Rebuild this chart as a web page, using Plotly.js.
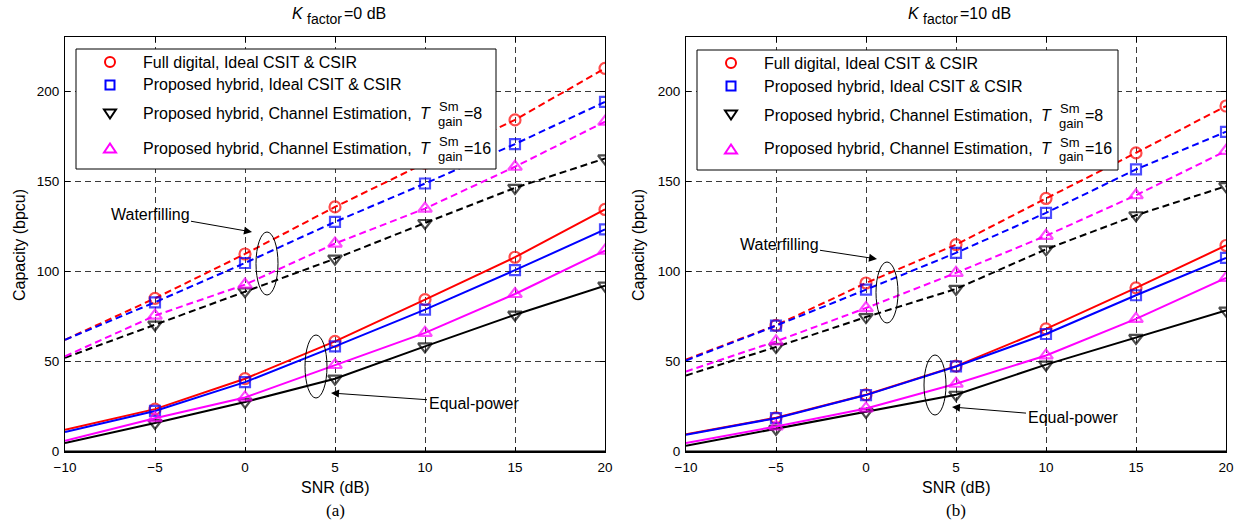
<!DOCTYPE html>
<html>
<head>
<meta charset="utf-8">
<script src="https://cdn.plot.ly/plotly-3.0.1.min.js"></script>
<style>html,body{margin:0;padding:0;background:#fff;}#chart{width:1247px;height:525px;}</style>
</head>
<body>
<div id="chart"></div>
<script>
// ---------------- DATA ----------------
const snr = [-10, -5, 0, 5, 10, 15, 20];

// (a) K_factor = 0 dB
const wfFullK0  = [62, 85, 109.6, 135.7, 160, 184, 212.6];
const wfHybK0   = [62, 82.8, 104.6, 127.4, 148.7, 170.6, 194];
const wfCe8K0   = [52, 70.4, 88.9, 107, 126.8, 146.3, 162.6];
const wfCe16K0  = [52.8, 75.4, 92.6, 115.4, 134.8, 158, 183];
const eqFullK0  = [12, 23.5, 40.4, 61.1, 84.3, 107.8, 134.3];
const eqHybK0   = [10.8, 22.5, 38.5, 58.3, 78.7, 100.6, 123.2];
const eqCe8K0   = [4.7, 15.8, 27.5, 40.4, 58.3, 75.9, 92];
const eqCe16K0  = [6, 18.5, 30, 48, 65.8, 87.4, 111.5];

// (b) K_factor = 10 dB
const wfFullK10 = [51, 70, 93.5, 114.8, 140.4, 165.7, 191.7];
const wfHybK10  = [50.5, 69.8, 89.8, 110.2, 132.4, 156.5, 177.4];
const wfCe8K10  = [42.2, 58, 74.6, 90.2, 112.2, 131.1, 147.2];
const wfCe16K10 = [44.4, 61.1, 79.6, 99.1, 119.7, 142.2, 166.8];
const eqFullK10 = [9.5, 18.7, 31.5, 47.4, 68, 90.8, 114.3];
const eqHybK10  = [9.3, 18.5, 31.3, 47.2, 65.2, 86.7, 107.4];
const eqCe8K10  = [3.2, 12.5, 22, 31.5, 48.2, 63, 78.2];
const eqCe16K10 = [4.7, 13.9, 23.9, 37.6, 53.3, 73.6, 96.3];

const seriesNames = [
  "Full digital, Ideal CSIT &amp; CSIR",
  "Proposed hybrid, Ideal CSIT &amp; CSIR",
  "Proposed hybrid, Channel Estimation,",
  "Proposed hybrid, Channel Estimation,"
];
const tGain = ["8", "16"];
const panelTitles = ["=0 dB", "=10 dB"];
const panelLabels = ["(a)", "(b)"];

// ---------------- STYLE / LAYOUT HELPERS ----------------
const W = 1247, H = 525;
const PX = v => v / W;
const PY = v => 1 - v / H;
const FONT = "Liberation Sans, Arial, Helvetica, sans-serif";
const styles = [
  {color: "#ff0000", symbol: "circle-open", size: 11},
  {color: "#0000ff", symbol: "square-open", size: 10},
  {color: "#000000", symbol: "triangle-down-open", size: 12},
  {color: "#ff00ff", symbol: "triangle-up-open", size: 12}
];
const DASH = "7px,4px";

const panels = [
  {xa: "x", ya: "y", wf: [wfFullK0, wfHybK0, wfCe8K0, wfCe16K0], eq: [eqFullK0, eqHybK0, eqCe8K0, eqCe16K0],
   left: 65, right: 605, box: [76, 49, 496, 169], title: [298, 305, 342],
   wfText: [150, 214], wfTip: [252, 232], wfEll: [256, 232, 278, 295],
   eqText: [474, 403], eqTip: [331, 393], eqEll: [305, 335, 327, 398], ytitle: 19},
  {xa: "x2", ya: "y2", wf: [wfFullK10, wfHybK10, wfCe8K10, wfCe16K10], eq: [eqFullK10, eqHybK10, eqCe8K10, eqCe16K10],
   left: 686, right: 1226, box: [697, 50, 1118, 170], title: [914, 921, 958],
   wfText: [779, 244], wfTip: [877, 259], wfEll: [876, 262, 898, 323],
   eqText: [1073, 417], eqTip: [952, 407], eqEll: [924, 355, 946, 415], ytitle: 638}
];

const traces = [];
const markerSizes = s => snr.map((v, i) => i === 0 ? 0 : s);
panels.forEach(p => {
  [["wf", DASH], ["eq", "solid"]].forEach(([key, dash]) => {
    p[key].forEach((vals, k) => {
      const st = styles[k];
      traces.push({
        type: "scatter", mode: "lines+markers", x: snr, y: vals,
        xaxis: p.xa, yaxis: p.ya, showlegend: false, hoverinfo: "skip",
        line: {color: st.color, width: 2, dash: dash},
        marker: {symbol: st.symbol, size: markerSizes(st.size), color: st.color,
                 line: {color: st.color, width: 2.2}}
      });
    });
  });
});

const annotations = [];
const shapes = [];
const txt = (text, x, y, opts) => Object.assign({
  text: text, x: PX(x), y: PY(y), xref: "paper", yref: "paper",
  showarrow: false, xanchor: "center", yanchor: "middle",
  font: {family: FONT, size: 16, color: "#000"}
}, opts || {});

panels.forEach((p, pi) => {
  const cx = (p.left + p.right) / 2;
  // title: K_factor = ...
  annotations.push(txt("<i>K</i>", p.title[0], 13));
  annotations.push(txt("factor", p.title[1], 19, {xanchor: "left", font: {family: FONT, size: 14, color: "#000"}}));
  annotations.push(txt(panelTitles[pi], p.title[2], 13, {xanchor: "left"}));
  // axis titles
  annotations.push(txt("SNR (dB)", cx, 487));
  annotations.push(txt("Capacity (bpcu)", p.ytitle, 245, {textangle: -90}));
  annotations.push(txt(panelLabels[pi], cx, 510,
    {font: {family: "Liberation Serif, Times New Roman, serif", size: 17, color: "#000"}}));
  // annotations with arrows
  [["Waterfilling", p.wfText, p.wfTip], ["Equal-power", p.eqText, p.eqTip]].forEach(([t, c, tip]) => {
    annotations.push(txt(t, tip[0], tip[1], {
      showarrow: true, ax: c[0] - tip[0], ay: c[1] - tip[1], axref: "pixel", ayref: "pixel",
      arrowhead: 2, arrowsize: 1.6, arrowwidth: 1, arrowcolor: "#000"}));
  });
  [p.wfEll, p.eqEll].forEach(e => {
    shapes.push({type: "circle", xref: "paper", yref: "paper", layer: "above",
      x0: PX(e[0]), x1: PX(e[2]), y0: PY(e[3]), y1: PY(e[1]),
      line: {color: "#000", width: 1}});
  });
  // heavier bottom frame line
  shapes.push({type: "line", xref: "paper", yref: "paper", layer: "above",
    x0: PX(p.left), x1: PX(p.right), y0: PY(451.5), y1: PY(451.5),
    line: {color: "#000", width: 2}});
  // legend box
  const [bx0, by0, bx1, by1] = p.box;
  shapes.push({type: "rect", xref: "paper", yref: "paper", layer: "above",
    x0: PX(bx0), x1: PX(bx1), y0: PY(by1), y1: PY(by0),
    fillcolor: "#fff", line: {color: "#000", width: 1}});
  const rows = [by0 + 13, by0 + 36, by0 + 65, by0 + 99];
  const mx = bx0 + 34;
  const lw = 2;
  // legend glyphs
  shapes.push({type: "circle", xref: "paper", yref: "paper", layer: "above",
    x0: PX(mx - 5), x1: PX(mx + 5), y0: PY(rows[0] + 5), y1: PY(rows[0] - 5),
    line: {color: styles[0].color, width: lw}});
  shapes.push({type: "rect", xref: "paper", yref: "paper", layer: "above",
    x0: PX(mx - 4.5), x1: PX(mx + 4.5), y0: PY(rows[1] + 4.5), y1: PY(rows[1] - 4.5),
    line: {color: styles[1].color, width: lw}});
  const tri = (r, down) => {
    const baseY = down ? r - 4.5 : r + 4.5;
    const apexY = down ? r + 4.5 : r - 4.5;
    return "M " + PX(mx - 6) + " " + PY(baseY) + " L " + PX(mx + 6) + " " + PY(baseY) +
           " L " + PX(mx) + " " + PY(apexY) + " Z";
  };
  shapes.push({type: "path", xref: "paper", yref: "paper", layer: "above",
    path: tri(rows[2], true), line: {color: styles[2].color, width: lw}});
  shapes.push({type: "path", xref: "paper", yref: "paper", layer: "above",
    path: tri(rows[3], false), line: {color: styles[3].color, width: lw}});
  // legend texts
  seriesNames.forEach((n, k) => {
    annotations.push(txt(n, bx0 + 65, rows[k], {xanchor: "left"}));
  });
  [2, 3].forEach((k, j) => {
    annotations.push(txt("<i>T</i>", bx0 + 349, rows[k], {xanchor: "center"}));
    annotations.push(txt("Sm", bx0 + 361, rows[k] - 7, {xanchor: "left", font: {family: FONT, size: 13, color: "#000"}}));
    annotations.push(txt("gain", bx0 + 360, rows[k] + 8, {xanchor: "left", font: {family: FONT, size: 13, color: "#000"}}));
    annotations.push(txt("=" + tGain[j], bx0 + 386, rows[k], {xanchor: "left"}));
  });
});

const axisBase = {
  showline: true, linecolor: "#000", linewidth: 1, mirror: "ticks",
  ticks: "inside", ticklen: 5, tickwidth: 1, tickcolor: "#000",
  showgrid: true, gridcolor: "#3a3a3a", gridwidth: 1, griddash: "6px,4px",
  zeroline: false, tickfont: {family: FONT, size: 13.5, color: "#000"}
};
const xBase = Object.assign({}, axisBase, {range: [-10, 20], dtick: 5, tick0: -10, ticklabelstandoff: 3});
const yBase = Object.assign({}, axisBase, {range: [0, 230], dtick: 50, tick0: 0, ticklabelstandoff: 2});
const yDom = [PY(451.5), PY(37)];
const layout = {
  width: W, height: H, margin: {l: 0, r: 0, t: 0, b: 0},
  paper_bgcolor: "#fff", plot_bgcolor: "#fff", showlegend: false,
  xaxis: Object.assign({}, xBase, {domain: [PX(65), PX(605)], anchor: "y"}),
  yaxis: Object.assign({}, yBase, {domain: yDom, anchor: "x"}),
  xaxis2: Object.assign({}, xBase, {domain: [PX(686), PX(1226)], anchor: "y2"}),
  yaxis2: Object.assign({}, yBase, {domain: yDom, anchor: "x2"}),
  annotations: annotations, shapes: shapes
};
Plotly.newPlot("chart", traces, layout, {staticPlot: true, displayModeBar: false});
</script>
</body>
</html>
